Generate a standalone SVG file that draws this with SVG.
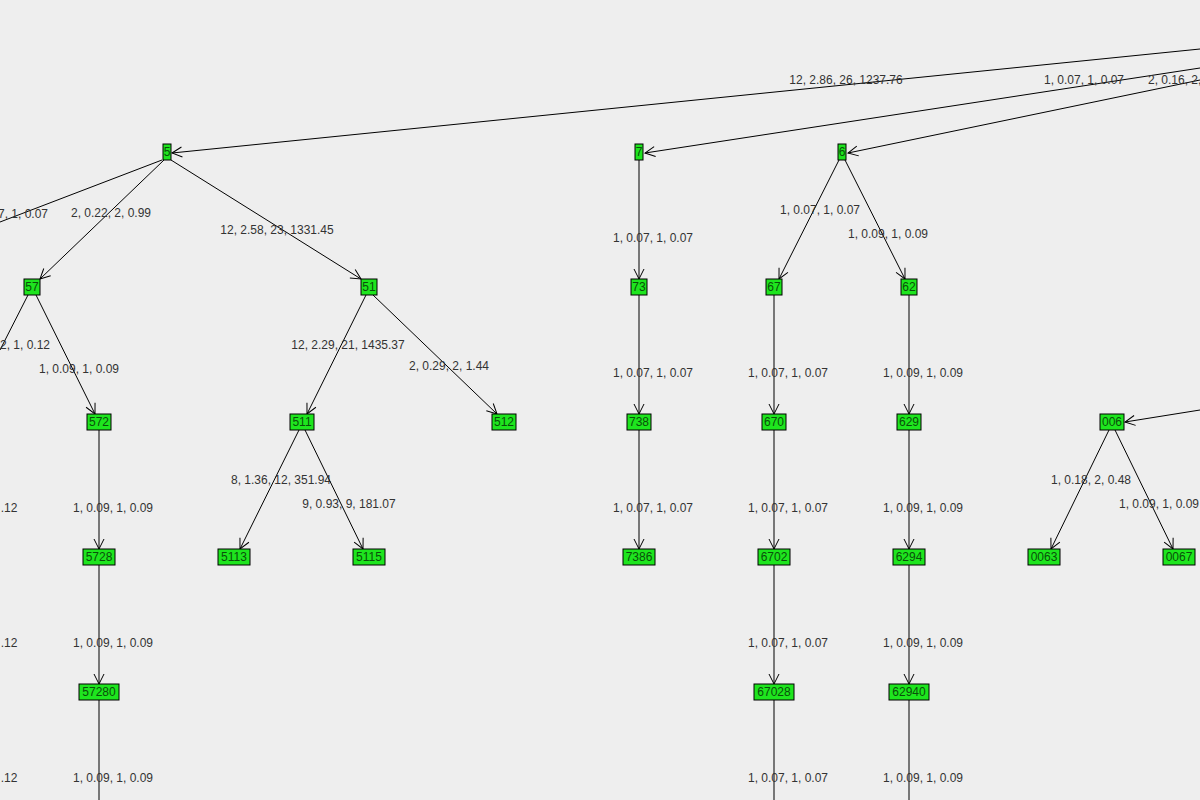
<svg xmlns="http://www.w3.org/2000/svg" width="1200" height="800" viewBox="0 0 1200 800">
<style>
.e{stroke:#000;stroke-width:1;fill:none;marker-end:url(#a)}
.l{stroke:#000;stroke-width:1;fill:none}
.n rect{fill:#1ee51e;stroke:#000;stroke-width:1}
.n text{font-family:"Liberation Sans",Arial,sans-serif;font-size:12px;fill:#0a4f0a;text-anchor:middle}
.t{font-family:"Liberation Sans",Arial,sans-serif;font-size:12px;fill:#333;text-anchor:middle}
</style>
<defs><marker id="a" markerWidth="12" markerHeight="12" refX="11" refY="6" orient="auto" markerUnits="userSpaceOnUse"><path d="M1,1 L11,6 L1,11" fill="none" stroke="#000" stroke-width="1"/></marker></defs>
<rect width="1200" height="800" fill="#eeeeee"/>
<g id="connectors">
<line class="e" x1="1200" y1="49" x2="172" y2="153"/>
<line class="e" x1="1200" y1="68" x2="645" y2="153"/>
<line class="e" x1="1200" y1="80" x2="848" y2="153"/>
<line class="l" x1="162" y1="160" x2="0" y2="222"/>
<line class="e" x1="164" y1="160" x2="40" y2="279"/>
<line class="e" x1="171" y1="160" x2="361" y2="279"/>
<line class="l" x1="28" y1="295" x2="0" y2="350"/>
<line class="e" x1="36" y1="295" x2="95" y2="414"/>
<line class="e" x1="366" y1="295" x2="307" y2="414"/>
<line class="e" x1="373" y1="295" x2="497" y2="414"/>
<line class="e" x1="639" y1="160" x2="639" y2="279"/>
<line class="e" x1="839" y1="160" x2="779" y2="279"/>
<line class="e" x1="845" y1="160" x2="905" y2="279"/>
<line class="e" x1="99" y1="430" x2="99" y2="549"/>
<line class="e" x1="99" y1="565" x2="99" y2="684"/>
<line class="l" x1="99" y1="700" x2="99" y2="800"/>
<line class="e" x1="299" y1="430" x2="240" y2="549"/>
<line class="e" x1="305" y1="430" x2="363" y2="549"/>
<line class="e" x1="639" y1="295" x2="639" y2="414"/>
<line class="e" x1="639" y1="430" x2="639" y2="549"/>
<line class="e" x1="774" y1="295" x2="774" y2="414"/>
<line class="e" x1="774" y1="430" x2="774" y2="549"/>
<line class="e" x1="774" y1="565" x2="774" y2="684"/>
<line class="l" x1="774" y1="700" x2="774" y2="800"/>
<line class="e" x1="909" y1="295" x2="909" y2="414"/>
<line class="e" x1="909" y1="430" x2="909" y2="549"/>
<line class="e" x1="909" y1="565" x2="909" y2="684"/>
<line class="l" x1="909" y1="700" x2="909" y2="800"/>
<line class="e" x1="1200" y1="410" x2="1125" y2="422"/>
<line class="e" x1="1109" y1="430" x2="1051" y2="549"/>
<line class="e" x1="1115" y1="430" x2="1173" y2="549"/>
<text class="t" x="846" y="84">12, 2.86, 26, 1237.76</text>
<text class="t" x="1084" y="84">1, 0.07, 1, 0.07</text>
<text class="t" x="1148" y="84" text-anchor="start" style="text-anchor:start">2, 0.16, 2,</text>
<text class="t" x="23" y="218">7, 1, 0.07</text>
<text class="t" x="111" y="217">2, 0.22, 2, 0.99</text>
<text class="t" x="277" y="234">12, 2.58, 23, 1331.45</text>
<text class="t" x="653" y="242">1, 0.07, 1, 0.07</text>
<text class="t" x="820" y="214">1, 0.07, 1, 0.07</text>
<text class="t" x="888" y="238">1, 0.09, 1, 0.09</text>
<text class="t" x="25" y="349">2, 1, 0.12</text>
<text class="t" x="79" y="373">1, 0.09, 1, 0.09</text>
<text class="t" x="348" y="349">12, 2.29, 21, 1435.37</text>
<text class="t" x="449" y="370">2, 0.29, 2, 1.44</text>
<text class="t" x="653" y="377">1, 0.07, 1, 0.07</text>
<text class="t" x="788" y="377">1, 0.07, 1, 0.07</text>
<text class="t" x="923" y="377">1, 0.09, 1, 0.09</text>
<text class="t" x="9" y="512">.12</text>
<text class="t" x="113" y="512">1, 0.09, 1, 0.09</text>
<text class="t" x="281" y="484">8, 1.36, 12, 351.94</text>
<text class="t" x="349" y="508">9, 0.93, 9, 181.07</text>
<text class="t" x="653" y="512">1, 0.07, 1, 0.07</text>
<text class="t" x="788" y="512">1, 0.07, 1, 0.07</text>
<text class="t" x="923" y="512">1, 0.09, 1, 0.09</text>
<text class="t" x="1091" y="484">1, 0.18, 2, 0.48</text>
<text class="t" x="1159" y="508">1, 0.09, 1, 0.09</text>
<text class="t" x="9" y="647">.12</text>
<text class="t" x="113" y="647">1, 0.09, 1, 0.09</text>
<text class="t" x="788" y="647">1, 0.07, 1, 0.07</text>
<text class="t" x="923" y="647">1, 0.09, 1, 0.09</text>
<text class="t" x="9" y="782">.12</text>
<text class="t" x="113" y="782">1, 0.09, 1, 0.09</text>
<text class="t" x="788" y="782">1, 0.07, 1, 0.07</text>
<text class="t" x="923" y="782">1, 0.09, 1, 0.09</text>
</g>
<g id="n5" class="n"><rect x="163" y="144" width="8" height="16"/><text x="167" y="156">5</text></g>
<g id="n7" class="n"><rect x="635" y="144" width="8" height="16"/><text x="639" y="156">7</text></g>
<g id="n6" class="n"><rect x="838" y="144" width="8" height="16"/><text x="842" y="156">6</text></g>
<g id="n57" class="n"><rect x="24" y="279" width="16" height="16"/><text x="32" y="291">57</text></g>
<g id="n51" class="n"><rect x="361" y="279" width="16" height="16"/><text x="369" y="291">51</text></g>
<g id="n73" class="n"><rect x="631" y="279" width="16" height="16"/><text x="639" y="291">73</text></g>
<g id="n67" class="n"><rect x="766" y="279" width="16" height="16"/><text x="774" y="291">67</text></g>
<g id="n62" class="n"><rect x="901" y="279" width="16" height="16"/><text x="909" y="291">62</text></g>
<g id="n572" class="n"><rect x="87" y="414" width="24" height="16"/><text x="99" y="426">572</text></g>
<g id="n511" class="n"><rect x="290" y="414" width="24" height="16"/><text x="302" y="426">511</text></g>
<g id="n512" class="n"><rect x="492" y="414" width="24" height="16"/><text x="504" y="426">512</text></g>
<g id="n738" class="n"><rect x="627" y="414" width="24" height="16"/><text x="639" y="426">738</text></g>
<g id="n670" class="n"><rect x="762" y="414" width="24" height="16"/><text x="774" y="426">670</text></g>
<g id="n629" class="n"><rect x="897" y="414" width="24" height="16"/><text x="909" y="426">629</text></g>
<g id="n006" class="n"><rect x="1100" y="414" width="24" height="16"/><text x="1112" y="426">006</text></g>
<g id="n5728" class="n"><rect x="83" y="549" width="32" height="16"/><text x="99" y="561">5728</text></g>
<g id="n5113" class="n"><rect x="218" y="549" width="32" height="16"/><text x="234" y="561">5113</text></g>
<g id="n5115" class="n"><rect x="353" y="549" width="32" height="16"/><text x="369" y="561">5115</text></g>
<g id="n7386" class="n"><rect x="623" y="549" width="32" height="16"/><text x="639" y="561">7386</text></g>
<g id="n6702" class="n"><rect x="758" y="549" width="32" height="16"/><text x="774" y="561">6702</text></g>
<g id="n6294" class="n"><rect x="893" y="549" width="32" height="16"/><text x="909" y="561">6294</text></g>
<g id="n0063" class="n"><rect x="1028" y="549" width="32" height="16"/><text x="1044" y="561">0063</text></g>
<g id="n0067" class="n"><rect x="1163" y="549" width="32" height="16"/><text x="1179" y="561">0067</text></g>
<g id="n57280" class="n"><rect x="79" y="684" width="40" height="16"/><text x="99" y="696">57280</text></g>
<g id="n67028" class="n"><rect x="754" y="684" width="40" height="16"/><text x="774" y="696">67028</text></g>
<g id="n62940" class="n"><rect x="889" y="684" width="40" height="16"/><text x="909" y="696">62940</text></g>
</svg>
